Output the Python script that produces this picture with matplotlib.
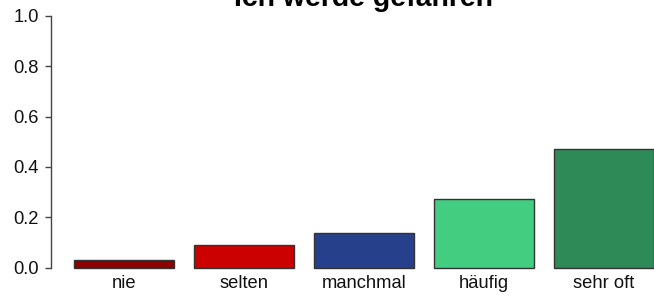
import matplotlib
matplotlib.use("Agg")
import matplotlib.pyplot as plt
import numpy as np

plt.rcParams['font.family'] = ['Liberation Sans', 'DejaVu Sans']

title = "Ich werde gefahren"
categories = ["nie", "selten", "manchmal", "häufig", "sehr oft"]
values = [0.028, 0.089, 0.136, 0.272, 0.473]
colors = ["#8B0000", "#CD0000", "#27408B", "#43CD80", "#2E8B57"]
yticks = [0.0, 0.2, 0.4, 0.6, 0.8, 1.0]

fig = plt.figure(figsize=(6.54, 2.96), dpi=100)
ax = fig.add_axes([50.5/654, 28.5/296, 627/654, 251.5/296])

x = np.arange(len(categories))
ax.bar(x, values, width=100/120, color=colors, edgecolor="#333333", linewidth=1.0, clip_on=False)

ax.set_xlim(-0.6125, len(categories) - 1 + 0.6125)
ax.set_ylim(0, 1.0)
ax.set_yticks(yticks)
ax.set_yticklabels([f"{v:.1f}" for v in yticks])
ax.set_xticks(x)
ax.set_xticklabels(categories)

for s in ["top", "right", "bottom"]:
    ax.spines[s].set_visible(False)
ax.spines["left"].set_color("#444444")
ax.spines["left"].set_linewidth(1.0)
ax.spines["left"].set_bounds(0, 1.0)

ax.tick_params(axis="y", length=4.3, width=1.0, color="#444444", pad=4.3, labelsize=13.2, labelcolor="#111111")
ax.tick_params(axis="x", length=0, pad=5.6, labelsize=13.2, labelcolor="#111111")

ax.set_title(title, fontsize=20.4, fontweight="bold", pad=7.0)

fig.savefig("out.png", dpi=100)
